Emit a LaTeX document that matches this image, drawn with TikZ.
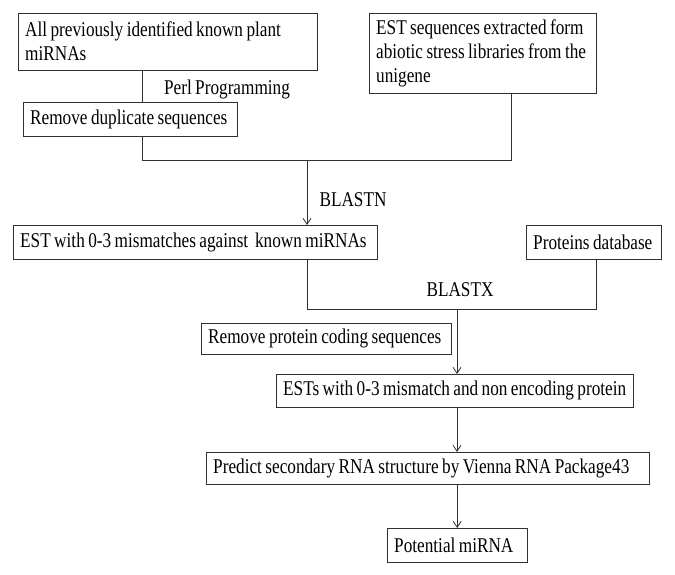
\documentclass[tikz,border=0pt]{standalone}
\usepackage{fontspec}
\setmainfont{Liberation Serif}[FakeStretch=0.82,WordSpace=0.8]
\usepackage{tikz}
\usetikzlibrary{arrows.meta}
\definecolor{FlowLine}{HTML}{303030}

\begin{document}
\begin{tikzpicture}[
	x=1pt, y=-1pt,
	box/.style={draw=FlowLine, anchor=north west, align=flush left, inner xsep=7pt, inner ysep=2pt,
		font=\fontsize{21}{24}\selectfont, execute at begin node={\spaceskip=0pt\xspaceskip=0pt\hyphenpenalty=10000\relax}},
	tool/.style={inner sep=0pt, font=\fontsize{21}{24}\selectfont},
	link/.style={draw=FlowLine, line width=0.8pt},
	arrow/.style={link, -{Straight Barb[length=6pt,width=8pt]}}
]
\useasboundingbox (0,0) rectangle (675,575);

\node[box, text width=285pt, minimum height=57pt] (known) at (18,13) {All previously identified known plant\\miRNAs};
\node[box, text width=213pt, minimum height=80pt] (estlib) at (369,13) {EST sequences extracted form\\abiotic stress libraries from the\\unigene};
\node[box, text width=200pt, minimum height=34pt] (dup) at (23,102) {Remove duplicate sequences};
\node[box, text width=350pt, minimum height=34pt] (mis) at (13,225) {EST with 0-3 mismatches against\ \ known miRNAs};
\node[box, text width=121pt, minimum height=34pt] (prot) at (526,225) {Proteins database};
\node[box, text width=236pt, minimum height=31pt] (rmprot) at (201,323) {Remove protein coding sequences};
\node[box, text width=343pt, minimum height=33pt] (ests) at (276,374) {ESTs with 0-3 mismatch and non encoding protein};
\node[box, text width=429pt, minimum height=32pt] (pred) at (206,452) {Predict secondary RNA structure by Vienna RNA Package43};
\node[box, text width=126pt, minimum height=34pt] (pot) at (387,528) {Potential miRNA};

\node[tool] (perl) at (227,89) {Perl Programming};
\node[tool] (blastn) at (353,200) {BLASTN};
\node[tool] (blastx) at (460,290) {BLASTX};

\coordinate (joinA) at (307,160);
\coordinate (joinB) at (457,309);

\draw[link] ([xshift=-25.5pt]known.south) -- ([xshift=12pt]dup.north);
\draw[link] ([xshift=12pt]dup.south) |- (joinA);
\draw[link] ([xshift=28.5pt]estlib.south) |- (joinA);
\draw[arrow] (joinA) -- (mis.north -| joinA);
\draw[link] (mis.south -| joinA) |- (joinB);
\draw[link] ([xshift=2.5pt]prot.south) |- (joinB);
\draw[arrow] (joinB) -- (ests.north -| joinB);
\draw[arrow] (ests.south -| joinB) -- (pred.north -| joinB);
\draw[arrow] (pot.north |- pred.south) -- (pot.north);
\end{tikzpicture}
\end{document}
